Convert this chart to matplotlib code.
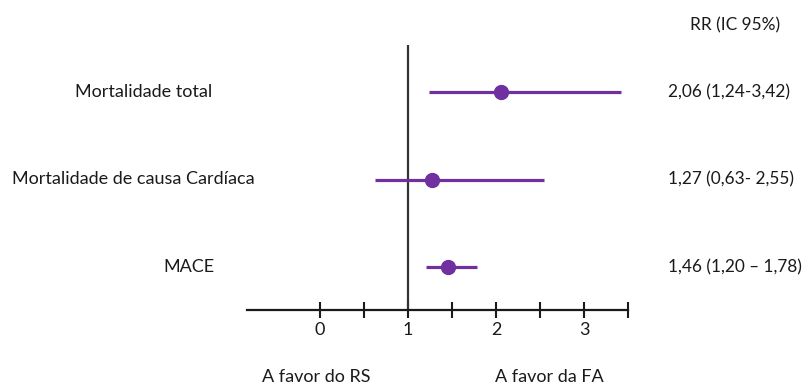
import matplotlib
matplotlib.use("Agg")
import matplotlib.pyplot as plt
import numpy as np

plt.rcParams['font.family'] = ['Lato', 'DejaVu Sans']

# Outcomes and relative risks (RR with 95% CI)
outcomes = ["Mortalidade total", "Mortalidade de causa Cardíaca", "MACE"]
rr = [2.06, 1.27, 1.46]
ci_low = [1.24, 0.63, 1.20]
ci_high = [3.42, 2.55, 1.78]
rr_labels = ["2,06 (1,24-3,42)", "1,27 (0,63- 2,55)", "1,46 (1,20 \u2013 1,78)"]
header = "RR (IC 95%)"
x_ticks = [0, 0.5, 1, 1.5, 2, 2.5, 3, 3.5]
x_ticklabels = ["0", "", "1", "", "2", "", "3", ""]
left_side = "A favor do RS"
right_side = "A favor da FA"

purple = "#7030A0"
ink = "#1a1a1a"
fs = 13
fs_rr = 12.4

W, H = 806, 385
fig = plt.figure(figsize=(W / 100, H / 100), dpi=100)
ax = fig.add_axes([247 / W, (H - 310) / H, (628 - 247) / W, 310 / H])
ax.set_xlim(-0.83, 3.5)
ax.set_ylim(2.4914, -1.0514)

rows = np.arange(len(outcomes))
ax.hlines(rows, ci_low, ci_high, color=purple, lw=2.3, zorder=3)
ax.plot(rr, rows, 'o', color=purple, ms=10, zorder=4)

# reference line at RR = 1
ax.vlines(1, -0.537, 2.4914, color="#333333", lw=1.6, zorder=2)

for s in ["top", "right", "left"]:
    ax.spines[s].set_visible(False)
ax.spines["bottom"].set_color(ink)
ax.spines["bottom"].set_linewidth(1.6)
ax.set_yticks([])
ax.set_xticks(x_ticks)
ax.set_xticklabels(x_ticklabels)
ax.tick_params(axis='x', direction='inout', length=11, width=1.5, color=ink,
               labelsize=fs, labelcolor=ink, pad=3)

left_x = [75, 12, 163]
for i, name in enumerate(outcomes):
    fig.text(left_x[i] / W, 1 - (92 + 87.5 * i) / H, name, fontsize=fs,
             color=ink, va='center', ha='left')
    fig.text(668 / W, 1 - (92 + 87.5 * i) / H, rr_labels[i], fontsize=fs_rr,
             color=ink, va='center', ha='left')
fig.text(690 / W, 1 - 25 / H, header, fontsize=fs_rr, color=ink, va='center', ha='left')
fig.text(262 / W, 1 - 377 / H, left_side, fontsize=fs, color=ink, va='center', ha='left')
fig.text(495 / W, 1 - 377 / H, right_side, fontsize=fs, color=ink, va='center', ha='left')

fig.savefig("out.png", dpi=100, facecolor="white")
